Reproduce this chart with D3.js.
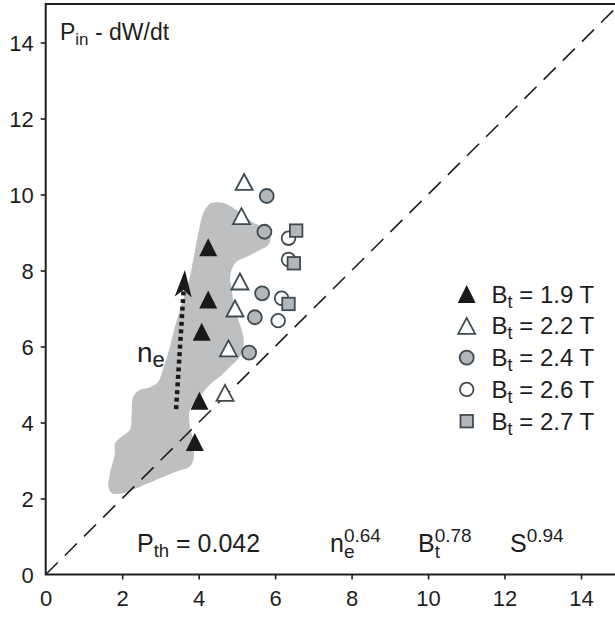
<!DOCTYPE html>
<html><head><meta charset="utf-8">
<script src="https://cdn.jsdelivr.net/npm/d3@7"></script>
<style>
html,body{margin:0;padding:0;background:#fff;}
svg{display:block;font-family:"Liberation Sans",Arial,Helvetica,sans-serif;}
</style></head>
<body>
<svg id="chart" width="615" height="619"></svg>
<script>
// ---- data ----
const xTicks = [0,2,4,6,8,10,12,14];
const yTicks = [0,2,4,6,8,10,12,14];
const bt19 = [[4.25,8.61],[4.25,7.24],[4.08,6.39],[4.02,4.57],[3.90,3.49]];
const bt22 = [[5.19,10.33],[5.12,9.43],[5.08,7.71],[4.95,7.00],[4.78,5.95],[4.69,4.78]];
const bt24 = [[5.78,9.96],[5.72,9.02],[5.66,7.40],[5.47,6.77],[5.32,5.84]];
const bt26 = [[6.35,8.85],[6.35,8.29],[6.17,7.27],[6.08,6.68]];
const bt27 = [[6.55,9.05],[6.49,8.19],[6.35,7.12]];
const legendLabels = ["1.9","2.2","2.4","2.6","2.7"];
const regionOutline = [
 [4.34,9.78],[4.64,9.78],[4.99,9.59],[5.39,9.28],[5.65,9.15],[5.82,9.02],[5.88,8.85],[5.82,8.67],
 [5.60,8.54],[5.26,8.36],[4.99,8.23],[4.86,8.01],[4.82,7.75],[4.86,7.57],[4.91,7.14],[5.04,6.70],
 [5.17,6.26],[5.17,5.99],[5.08,5.73],[4.82,5.47],[4.56,5.21],[4.37,5.07],[4.12,4.80],[3.95,4.59],
 [3.77,4.33],[3.77,3.89],[3.86,3.54],[3.86,3.01],[3.77,2.84],[3.43,2.71],[2.99,2.53],[2.47,2.31],
 [2.03,2.14],[1.73,2.14],[1.64,2.31],[1.68,2.66],[1.81,3.19],[1.81,3.45],[1.99,3.63],[2.20,3.80],
 [2.25,4.24],[2.29,4.68],[2.47,4.86],[2.73,4.93],[2.94,5.07],[3.12,5.57],[3.25,5.99],[3.38,6.52],
 [3.56,7.14],[3.73,7.66],[3.86,8.28],[3.99,8.98],[4.12,9.51],[4.25,9.72]
];
const arrowStart = [3.41,4.35];
const arrowEnd = [3.64,8.01];
const scalingCoef = "0.042";
const expNe = "0.64", expBt = "0.78", expS = "0.94";

// ---- scales ----
const svg = d3.select("#chart");
const x = d3.scaleLinear().domain([0,14]).range([45.7,581]);
const y = d3.scaleLinear().domain([0,14]).range([574.5,42.5]);
const xMax = x.invert(615), yMax = y.invert(4);
const ink = "#1e1e1e", slate = "#3f4b52", greyFill = "#b4b6b9", regionFill = "#bdbfc1";

// shaded region
svg.append("path")
  .attr("d", d3.line().x(d=>x(d[0])).y(d=>y(d[1])).curve(d3.curveCatmullRomClosed.alpha(0.5))(regionOutline))
  .attr("fill", regionFill);

// diagonal dashed line
const dmax = Math.min(xMax,yMax)+0.3;
svg.append("line")
  .attr("x1",x(0)).attr("y1",y(0)).attr("x2",x(dmax)).attr("y2",y(dmax))
  .attr("stroke",ink).attr("stroke-width",1.6).attr("stroke-dasharray","17,10");

// frame
svg.append("path")
  .attr("d",`M${x(xMax)},${y(yMax)}H${x(0)}V${y(0)}H${x(xMax)}`)
  .attr("fill","none").attr("stroke",ink).attr("stroke-width",2);

// axes
const xAxis = svg.append("g").attr("transform",`translate(0,${y(0)})`)
  .call(d3.axisBottom(x).tickValues(xTicks).tickSize(5).tickPadding(6).tickFormat(d3.format("d")));
const yAxis = svg.append("g").attr("transform",`translate(${x(0)},0)`)
  .call(d3.axisLeft(y).tickValues(yTicks).tickSize(5).tickPadding(7).tickFormat(d3.format("d")));
[xAxis,yAxis].forEach(g=>{
  g.select(".domain").remove();
  g.selectAll(".tick line").attr("stroke",ink).attr("stroke-width",1.6)
    .filter(d=>d===0).remove();
  g.selectAll(".tick text").attr("fill",ink).attr("font-size",22)
    .attr("font-family","'Liberation Sans',Arial,sans-serif");
});
xAxis.selectAll(".tick text").attr("dy","0.95em");
yAxis.selectAll(".tick text").attr("dy","0.36em");

// markers
function triPath(cx,cy,w,h){
  return `M${cx},${cy-h/2}L${cx+w/2},${cy+h/2}L${cx-w/2},${cy+h/2}Z`;
}
const g = svg.append("g");
function drawTri(data,w,h,fill,stroke,sw){
  g.selectAll(null).data(data).enter().append("path")
   .attr("d",d=>triPath(x(d[0]),y(d[1]),w,h))
   .attr("fill",fill).attr("stroke",stroke).attr("stroke-width",sw).attr("stroke-linejoin","miter");
}
function drawCirc(data,r,fill){
  g.selectAll(null).data(data).enter().append("circle")
   .attr("cx",d=>x(d[0])).attr("cy",d=>y(d[1])).attr("r",r)
   .attr("fill",fill).attr("stroke",slate).attr("stroke-width",1.8);
}
function drawSq(data,s){
  g.selectAll(null).data(data).enter().append("rect")
   .attr("x",d=>x(d[0])-s/2).attr("y",d=>y(d[1])-s/2).attr("width",s).attr("height",s)
   .attr("fill",greyFill).attr("stroke",slate).attr("stroke-width",1.8);
}
drawCirc(bt26,6.8,"#fff");
drawSq(bt27,12.5);
drawCirc(bt24,7,greyFill);
drawTri(bt22,17,16,"#fff",slate,1.8);
drawTri(bt19,18,18,"#1a1a1a","none",0);

// dotted arrow (density trend)
{
  const x0=x(arrowStart[0]), y0=y(arrowStart[1]), x1=x(arrowEnd[0]), y1=y(arrowEnd[1]);
  const len=Math.hypot(x1-x0,y1-y0), ux=(x1-x0)/len, uy=(y1-y0)/len, px=-uy, py=ux;
  const headL=27, headW=8.5, notch=7;
  svg.append("line").attr("x1",x0).attr("y1",y0)
    .attr("x2",x1-ux*(headL-notch)).attr("y2",y1-uy*(headL-notch))
    .attr("stroke","#1a1a1a").attr("stroke-width",4.5).attr("stroke-dasharray","4,3.6");
  const bx=x1-ux*headL, by=y1-uy*headL;
  svg.append("path").attr("d",
    `M${x1},${y1}L${bx+px*headW},${by+py*headW}L${x1-ux*(headL-notch)},${y1-uy*(headL-notch)}L${bx-px*headW},${by-py*headW}Z`)
    .attr("fill","#1a1a1a");
}

// texts
const T = (sx,sy,size)=>svg.append("text").attr("x",sx).attr("y",sy).attr("font-size",size).attr("fill",ink);
{
  const t=T(60,40,23);
  t.append("tspan").text("P");
  t.append("tspan").attr("font-size",17).attr("dy",5).text("in");
  t.append("tspan").attr("dy",-5).text(" - dW/dt");
}
{
  const t=T(137,362,28);
  t.append("tspan").text("n");
  t.append("tspan").attr("font-size",22).attr("dy",5).text("e");
}
{
  const t=T(137,552,25);
  t.append("tspan").text("P");
  t.append("tspan").attr("font-size",18.5).attr("dy",5).text("th");
  t.append("tspan").attr("dy",-5).text(" = "+scalingCoef);
}
function powTerm(sx,base,sub,exp){
  const t=T(sx,552,25);
  t.append("tspan").text(base);
  const subX = sx + (base==="n"?13.9:(base==="B"?16.7:0));
  if(sub){
    t.append("tspan").attr("font-size",19).attr("dy",6).text(sub);
    t.append("tspan").attr("x",subX).attr("dy",-16).attr("font-size",19).text(exp);
  } else {
    t.append("tspan").attr("font-size",19).attr("dy",-10).text(exp);
  }
}
powTerm(330,"n","e",expNe);
powTerm(418,"B","t",expBt);
powTerm(510,"S",null,expS);

// legend
const legX=466.7, legY0=294, legDY=31.8;
legendLabels.forEach((lab,i)=>{
  const cy=legY0+i*legDY;
  if(i===0) svg.append("path").attr("d",triPath(legX,cy,18,18)).attr("fill","#1a1a1a");
  if(i===1) svg.append("path").attr("d",triPath(legX,cy,17,16)).attr("fill","#fff").attr("stroke",slate).attr("stroke-width",1.8);
  if(i===2) svg.append("circle").attr("cx",legX).attr("cy",cy).attr("r",7).attr("fill",greyFill).attr("stroke",slate).attr("stroke-width",1.8);
  if(i===3) svg.append("circle").attr("cx",legX).attr("cy",cy).attr("r",6.8).attr("fill","#fff").attr("stroke",slate).attr("stroke-width",1.8);
  if(i===4) svg.append("rect").attr("x",legX-6.25).attr("y",cy-6.25).attr("width",12.5).attr("height",12.5).attr("fill",greyFill).attr("stroke",slate).attr("stroke-width",1.8);
  const t=T(491.5,cy+8.5,24);
  t.append("tspan").text("B");
  t.append("tspan").attr("font-size",18).attr("dy",5).text("t");
  t.append("tspan").attr("dy",-5).text(" = "+lab+" T");
});
</script>
</body></html>
